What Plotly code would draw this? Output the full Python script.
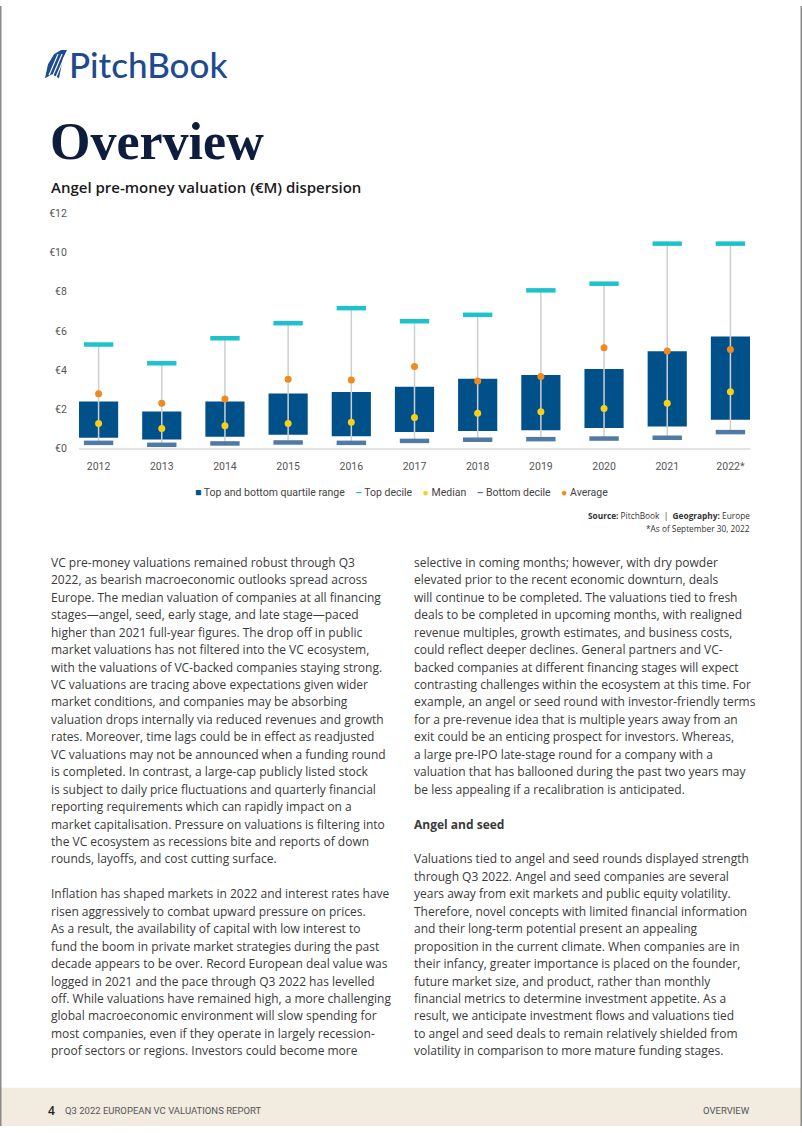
import plotly.graph_objects as go

W, H = 802, 1133
# the photographed page is offset 8px down and squeezed vertically (y' = 8 + 0.986*y);
# positions below are given in reference pixels and converted back here.
def X(p): return p / W
def Y(p): return 1 - ((p - 8) / 0.986) / H

# ---------------- data ----------------
years = ["2012", "2013", "2014", "2015", "2016", "2017", "2018", "2019", "2020", "2021", "2022*"]
top_decile = [5.30, 4.34, 5.62, 6.39, 7.16, 6.49, 6.82, 8.07, 8.41, 10.46, 10.46]
q3 = [2.39, 1.88, 2.39, 2.80, 2.87, 3.14, 3.55, 3.74, 4.05, 4.95, 5.71]
q1 = [0.53, 0.44, 0.58, 0.68, 0.61, 0.82, 0.87, 0.92, 1.03, 1.11, 1.45]
median = [1.26, 1.01, 1.14, 1.26, 1.33, 1.57, 1.79, 1.86, 2.03, 2.29, 2.89]
average = [2.78, 2.29, 2.51, 3.52, 3.49, 4.17, 3.43, 3.67, 5.13, 4.97, 5.04]
bottom_decile = [0.27, 0.17, 0.24, 0.29, 0.27, 0.37, 0.43, 0.46, 0.49, 0.53, 0.82]
y_ticks = [0, 2, 4, 6, 8, 10, 12]

legend_items = ["Top and bottom quartile range", "Top decile", "Median", "Bottom decile", "Average"]

left_lines = [
    "VC pre-money valuations remained robust through Q3",
    "2022, as bearish macroeconomic outlooks spread across",
    "Europe. The median valuation of companies at all financing",
    "stages\u2014angel, seed, early stage, and late stage\u2014paced",
    "higher than 2021 full-year figures. The drop off in public",
    "market valuations has not filtered into the VC ecosystem,",
    "with the valuations of VC-backed companies staying strong.",
    "VC valuations are tracing above expectations given wider",
    "market conditions, and companies may be absorbing",
    "valuation drops internally via reduced revenues and growth",
    "rates. Moreover, time lags could be in effect as readjusted",
    "VC valuations may not be announced when a funding round",
    "is completed. In contrast, a large-cap publicly listed stock",
    "is subject to daily price fluctuations and quarterly financial",
    "reporting requirements which can rapidly impact on a",
    "market capitalisation. Pressure on valuations is filtering into",
    "the VC ecosystem as recessions bite and reports of down",
    "rounds, layoffs, and cost cutting surface.",
    "",
    "Inflation has shaped markets in 2022 and interest rates have",
    "risen aggressively to combat upward pressure on prices.",
    "As a result, the availability of capital with low interest to",
    "fund the boom in private market strategies during the past",
    "decade appears to be over. Record European deal value was",
    "logged in 2021 and the pace through Q3 2022 has levelled",
    "off. While valuations have remained high, a more challenging",
    "global macroeconomic environment will slow spending for",
    "most companies, even if they operate in largely recession-",
    "proof sectors or regions. Investors could become more",
]
right_lines = [
    "selective in coming months; however, with dry powder",
    "elevated prior to the recent economic downturn, deals",
    "will continue to be completed. The valuations tied to fresh",
    "deals to be completed in upcoming months, with realigned",
    "revenue multiples, growth estimates, and business costs,",
    "could reflect deeper declines. General partners and VC-",
    "backed companies at different financing stages will expect",
    "contrasting challenges within the ecosystem at this time. For",
    "example, an angel or seed round with investor-friendly terms",
    "for a pre-revenue idea that is multiple years away from an",
    "exit could be an enticing prospect for investors. Whereas,",
    "a large pre-IPO late-stage round for a company with a",
    "valuation that has ballooned during the past two years may",
    "be less appealing if a recalibration is anticipated.",
    "",
    "<b>Angel and seed</b>",
    "",
    "Valuations tied to angel and seed rounds displayed strength",
    "through Q3 2022. Angel and seed companies are several",
    "years away from exit markets and public equity volatility.",
    "Therefore, novel concepts with limited financial information",
    "and their long-term potential present an appealing",
    "proposition in the current climate. When companies are in",
    "their infancy, greater importance is placed on the founder,",
    "future market size, and product, rather than monthly",
    "financial metrics to determine investment appetite. As a",
    "result, we anticipate investment flows and valuations tied",
    "to angel and seed deals to remain relatively shielded from",
    "volatility in comparison to more mature funding stages.",
]

# ---------------- styles ----------------
CHARTF = "Roboto, Open Sans, sans-serif"
BODY = "Open Sans, Lato, sans-serif"
C_BOX = "#00508a"
C_TOP = "#1cc2cc"
C_BOT = "#4f7aa5"
C_MED = "#f7d117"
C_AVG = "#f08a1e"

fig = go.Figure()

# whiskers (bottom decile -> top decile)
wx, wy = [], []
for yr, b, t in zip(years, bottom_decile, top_decile):
    wx += [yr, yr, None]
    wy += [b, t, None]
fig.add_trace(go.Scatter(x=wx, y=wy, mode="lines", line=dict(color="#cfcfcf", width=1.5),
                         hoverinfo="skip", showlegend=False, cliponaxis=False))

# quartile boxes
fig.add_trace(go.Bar(x=years, y=[a - b for a, b in zip(q3, q1)], base=q1, width=0.62,
                     marker=dict(color=C_BOX, line=dict(width=0)), showlegend=False,
                     name=legend_items[0]))

fig.add_trace(go.Scatter(x=years, y=top_decile, mode="markers", name=legend_items[1],
                         marker=dict(symbol="line-ew", size=21, line=dict(color=C_TOP, width=4.5)),
                         showlegend=False, cliponaxis=False))
fig.add_trace(go.Scatter(x=years, y=bottom_decile, mode="markers", name=legend_items[3],
                         marker=dict(symbol="line-ew", size=21, line=dict(color=C_BOT, width=4.5)),
                         showlegend=False, cliponaxis=False))
fig.add_trace(go.Scatter(x=years, y=median, mode="markers", name=legend_items[2],
                         marker=dict(symbol="circle", size=7, color=C_MED),
                         showlegend=False, cliponaxis=False))
fig.add_trace(go.Scatter(x=years, y=average, mode="markers", name=legend_items[4],
                         marker=dict(symbol="circle", size=7, color=C_AVG),
                         showlegend=False, cliponaxis=False))

fig.update_layout(
    width=W, height=H, margin=dict(l=0, r=0, t=0, b=0),
    paper_bgcolor="white", plot_bgcolor="white", hovermode=False,
    xaxis=dict(domain=[X(79), X(750)], range=[-0.31, len(years) - 1 + 0.31],
               type="category", showgrid=False, showline=True, linecolor="#e3e3e3", linewidth=2,
               ticks="outside", ticklen=7, tickcolor="rgba(0,0,0,0)",
               tickfont=dict(family=CHARTF, size=10.5, color="#555555"), zeroline=False),
    yaxis=dict(domain=[Y(449), Y(215)], range=[0, 12], tickvals=y_ticks,
               ticktext=["\u20ac" + str(v) for v in y_ticks],
               showgrid=False, zeroline=False, showline=False,
               ticks="outside", ticklen=9, tickcolor="rgba(0,0,0,0)",
               tickfont=dict(family=CHARTF, size=10.5, color="#555555")),
)

ann = []
def text(x, y, s, size, color, family=BODY, anchor="left", weight=None):
    f = dict(family=family, size=size, color=color)
    if weight:
        f["weight"] = weight
    ann.append(dict(x=X(x), y=Y(y), xref="paper", yref="paper", text=s, showarrow=False,
                    xanchor=anchor, yanchor="middle", font=f))

# logo text & title
text(67, 66, "PitchBook", 35, "#1e4b8e", family="Lato, Open Sans, sans-serif", weight=500)
text(48, 143, "Overview", 52, "#0e1c3d", family="Liberation Serif, DejaVu Serif, serif", weight=700)
text(49, 189, "Angel pre-money valuation (\u20acM) dispersion", 15, "#1a1a1a", weight=600)

# legend (one line, symbols coloured)
leg_syms = [("\u25a0", C_BOX), ("<b>\u2013</b>", C_TOP), ("\u25cf", C_MED), ("<b>\u2013</b>", C_BOT), ("\u25cf", C_AVG)]
parts = []
for (sym, col), lab in zip(leg_syms, legend_items):
    parts.append(f"<span style='color:{col}'>{sym}</span> {lab}")
text(401, 493, "&nbsp;&nbsp;&nbsp;&nbsp;".join(parts), 10.5, "#444444", family=CHARTF, anchor="center")

# source
text(752, 516, "<b>Source:</b> PitchBook  |  <b>Geography:</b> Europe", 8.3, "#333333", anchor="right")
text(752, 529, "*As of September 30, 2022", 8.3, "#333333", anchor="right")

# body text
LS = 17.4
for i, s in enumerate(left_lines):
    if s:
        text(49, 563 + i * LS, s, 12, "#3a3a3a")
for i, s in enumerate(right_lines):
    if s:
        text(412, 563 + i * LS, s, 12, "#3a3a3a")

# footer
text(46, 1110, "4", 12, "#222222", weight=600)
text(63, 1110, "Q3 2022 EUROPEAN VC VALUATIONS REPORT", 9.5, "#555555", family=CHARTF)
text(752, 1110, "OVERVIEW", 9.5, "#555555", family=CHARTF, anchor="right")

shapes = [
    dict(type="rect", xref="paper", yref="paper", x0=0, x1=1, y0=0, y1=Y(1087),
         fillcolor="#f1ebe0", line=dict(width=0), layer="below"),
    dict(type="line", xref="paper", yref="paper", x0=X(0.75), x1=X(0.75), y0=0, y1=1,
         line=dict(color="#8a8a8a", width=1.5)),
    dict(type="line", xref="paper", yref="paper", x0=X(801.25), x1=X(801.25), y0=0, y1=1,
         line=dict(color="#8a8a8a", width=1.5)),
]
# logo icon (stylised sail)
def path(pts):
    return "M " + " L ".join(f"{X(a):.5f},{Y(b):.5f}" for a, b in pts) + " Z"
shapes.append(dict(type="path", xref="paper", yref="paper",
                   path=path([(45, 80), (48, 66), (54, 56), (61, 52), (67, 52), (63, 60), (61, 70), (59, 80), (52, 76)]),
                   fillcolor="#1e4b8e", line=dict(width=0)))
for a, b in [((49, 77), (58, 56)), ((53, 77), (62, 56)), ((56, 79), (64, 60))]:
    shapes.append(dict(type="line", xref="paper", yref="paper", x0=X(a[0]), y0=Y(a[1]),
                       x1=X(b[0]), y1=Y(b[1]), line=dict(color="white", width=1.2)))

fig.update_layout(annotations=ann, shapes=shapes)
fig.write_html(
    "out.html",
    config={"displayModeBar": False, "staticPlot": True},
    post_script=(
        "document.documentElement.style.overflow='hidden';"
        "document.body.style.margin='0';document.body.style.padding='0';document.body.style.overflow='hidden';"
    ),
)
